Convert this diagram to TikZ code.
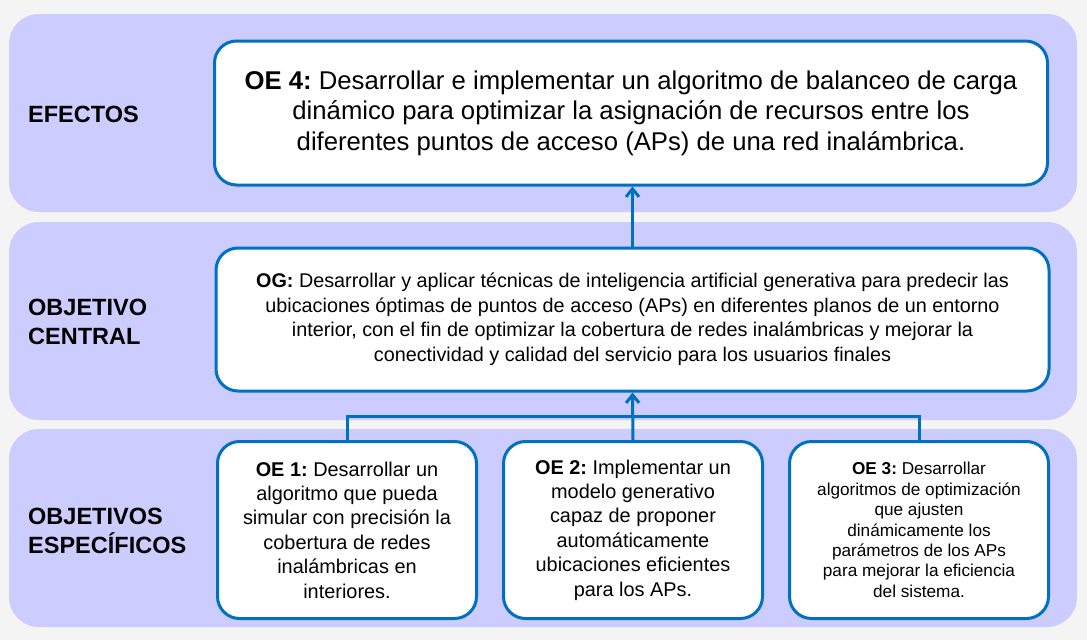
\documentclass[tikz,border=0pt]{standalone}
\usepackage{fontspec}
\setmainfont{Liberation Sans}
\usepackage{xcolor}
\usetikzlibrary{positioning,arrows.meta}
\definecolor{bandlila}{RGB}{204,204,255}
\definecolor{bordeazul}{RGB}{0,112,192}
\definecolor{fondogris}{RGB}{244,244,244}
\frenchspacing

\begin{document}
\begin{tikzpicture}[x=1pt,y=-1pt,node distance=24pt,
    band/.style={rectangle,rounded corners=30pt,fill=bandlila,minimum width=1068pt,minimum height=198pt,inner sep=0pt},
    objbox/.style={rectangle,rounded corners=22pt,draw=bordeazul,line width=3pt,fill=white,align=center,inner sep=0pt},
    oebox/.style={objbox,minimum width=259pt,minimum height=177pt,font=\fontsize{19.9}{24.4}\selectfont},
    tag/.style={anchor=west,align=left,inner sep=0pt,font=\fontsize{23.5}{29}\selectfont\bfseries},
    conn/.style={draw=bordeazul,line width=3pt},
    arrow/.style={conn,-{Straight Barb[length=8pt,width=13pt]}}]

    \fill[fondogris] (0,0) rectangle (1087,640);
    \useasboundingbox (0,0) rectangle (1087,640);

    \node[band] (B1) at (543,113) {};
    \node[band] (B2) at (543,321) {};
    \node[band] (B3) at (543,528) {};

    \node[tag] (efectos) at (28,114) {EFECTOS};
    \node[tag] (central) at (28,322) {OBJETIVO\\CENTRAL};
    \node[tag] (especificos) at (28,531) {OBJETIVOS\\ESPECÍFICOS};

    \node[objbox,minimum width=833pt,minimum height=144pt,font=\fontsize{25.7}{30.5}\selectfont] (OE4) at (631,113)
        {\textbf{OE 4:} Desarrollar e implementar un algoritmo de balanceo de carga\\dinámico para optimizar la asignación de recursos entre los\\diferentes puntos de acceso (APs) de una red inalámbrica.};
    \node[objbox,minimum width=833pt,minimum height=143pt,font=\fontsize{19.8}{24.5}\selectfont] (OG) at (632.5,319.5)
        {\textbf{OG:} Desarrollar y aplicar técnicas de inteligencia artificial generativa para predecir las\\ubicaciones óptimas de puntos de acceso (APs) en diferentes planos de un entorno\\interior, con el fin de optimizar la cobertura de redes inalámbricas y mejorar la\\conectividad y calidad del servicio para los usuarios finales};

    \node[oebox] (OE1) at (347,530)
        {\textbf{OE 1:} Desarrollar un\\algoritmo que pueda\\simular con precisión la\\cobertura de redes\\inalámbricas en\\interiores.};
    \node[oebox,right=of OE1] (OE2)
        {\textbf{OE 2:} Implementar un\\modelo generativo\\capaz de proponer\\automáticamente\\ubicaciones eficientes\\para los APs.};
    \node[oebox,right=of OE2,font=\fontsize{17.2}{20.4}\selectfont] (OE3)
        {\textbf{OE 3:} Desarrollar\\algoritmos de optimización\\que ajusten\\dinámicamente los\\parámetros de los APs\\para mejorar la eficiencia\\del sistema.};

    \coordinate (union) at (OE2.north |- 0,416);
    \draw[conn] (OE1.north) |- (union) -| (OE3.north);
    \draw[arrow] (OE2.north) -- (OG.south);
    \draw[arrow] (OG.north) -- (OG.north |- OE4.south);

\end{tikzpicture}
\end{document}
